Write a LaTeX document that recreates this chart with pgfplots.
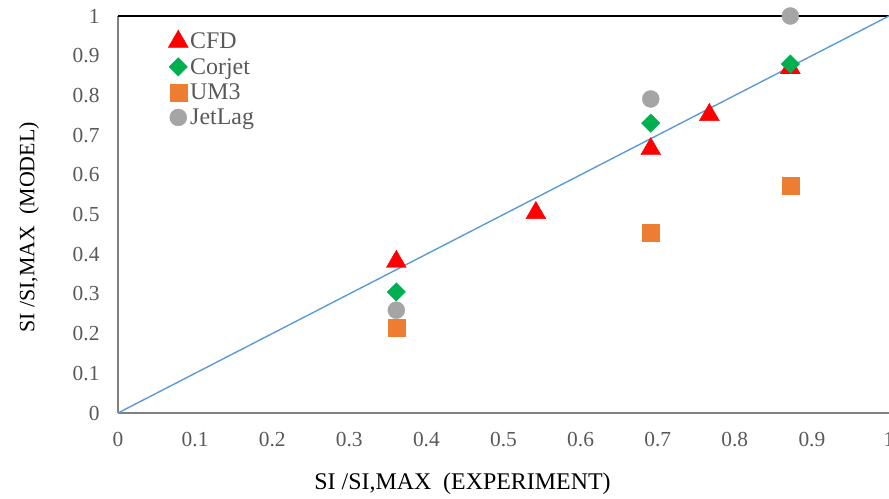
\documentclass[border=0pt]{standalone}
\usepackage{pgfplots}
\pgfplotsset{compat=1.18}
\usepackage{fontspec}
\setmainfont{Liberation Serif}
\definecolor{cfd}{HTML}{FF0000}
\definecolor{corjet}{HTML}{00B050}
\definecolor{um3}{HTML}{ED7D31}
\definecolor{jetlag}{HTML}{A5A5A5}
\definecolor{fitline}{HTML}{5B9BD5}
\definecolor{txt}{HTML}{595959}
\definecolor{axgray}{HTML}{808080}
\begin{document}
\begin{tikzpicture}
\begin{axis}[
  scale only axis,
  width=771bp, height=397bp,
  xmin=0, xmax=1, ymin=0, ymax=1,
  clip=false,
  axis x line*=bottom, axis y line*=left,
  axis line style={-, draw=axgray, line width=1.6bp},
  xtick={0,0.1,...,1.0}, ytick={0,0.1,...,1.0},
  xticklabels={0,0.1,0.2,0.3,0.4,0.5,0.6,0.7,0.8,0.9,1},
  yticklabels={0,0.1,0.2,0.3,0.4,0.5,0.6,0.7,0.8,0.9,1},
  major tick length=0pt,
  tick label style={font=\fontsize{21.5}{24}\selectfont, text=txt},
  xticklabel style={yshift=-16bp},
  yticklabel style={xshift=-15bp},
  xlabel={SI /SI,MAX\ \ (EXPERIMENT)},
  ylabel={SI /SI,MAX\ \ (MODEL)},
  every axis x label/.style={at={(rel axis cs:0.5,0)}, anchor=center, xshift=-41bp, yshift=-71bp, font=\fontsize{24}{26}\selectfont, text=black},
  every axis y label/.style={at={(rel axis cs:0,0.5)}, anchor=center, xshift=-89bp, yshift=-13bp, rotate=90, font=\fontsize{22}{24}\selectfont, text=black},
  legend style={at={(rel axis cs:0.065,0.965)}, anchor=north west, draw=none, fill=none,
    font=\fontsize{24}{26}\selectfont, text=txt, row sep=4bp, inner sep=0pt},
  legend cell align=left,
]
\addplot[black, line width=2.6bp, forget plot] coordinates {(0,1) (1,1)};
\addplot[only marks, mark=triangle*, mark size=11.5bp, color=cfd] coordinates {
 (0.361,0.381) (0.542,0.504) (0.691,0.665) (0.767,0.751) (0.872,0.869)};
\addlegendentry{CFD}
\addplot[only marks, mark=square*, mark size=6.5bp, mark options={rotate=45}, color=corjet] coordinates {
 (0.361,0.305) (0.691,0.730) (0.872,0.879)};
\addlegendentry{Corjet}
\addplot[only marks, mark=square*, mark size=8.5bp, color=um3] coordinates {
 (0.361,0.214) (0.691,0.453) (0.872,0.572)};
\addlegendentry{UM3}
\addplot[only marks, mark=*, mark size=8.5bp, color=jetlag] coordinates {
 (0.361,0.259) (0.691,0.791) (0.872,1.0)};
\addlegendentry{JetLag}
\addplot[fitline, line width=1.4bp, forget plot] coordinates {(0,0) (1,1)};
\coordinate (bl) at (rel axis cs:0,0);
\end{axis}
\pgfresetboundingbox
\path[use as bounding box] ([shift={(-118bp,-86bp)}]bl) rectangle ([shift={(771bp,413bp)}]bl);
\end{tikzpicture}
\end{document}
